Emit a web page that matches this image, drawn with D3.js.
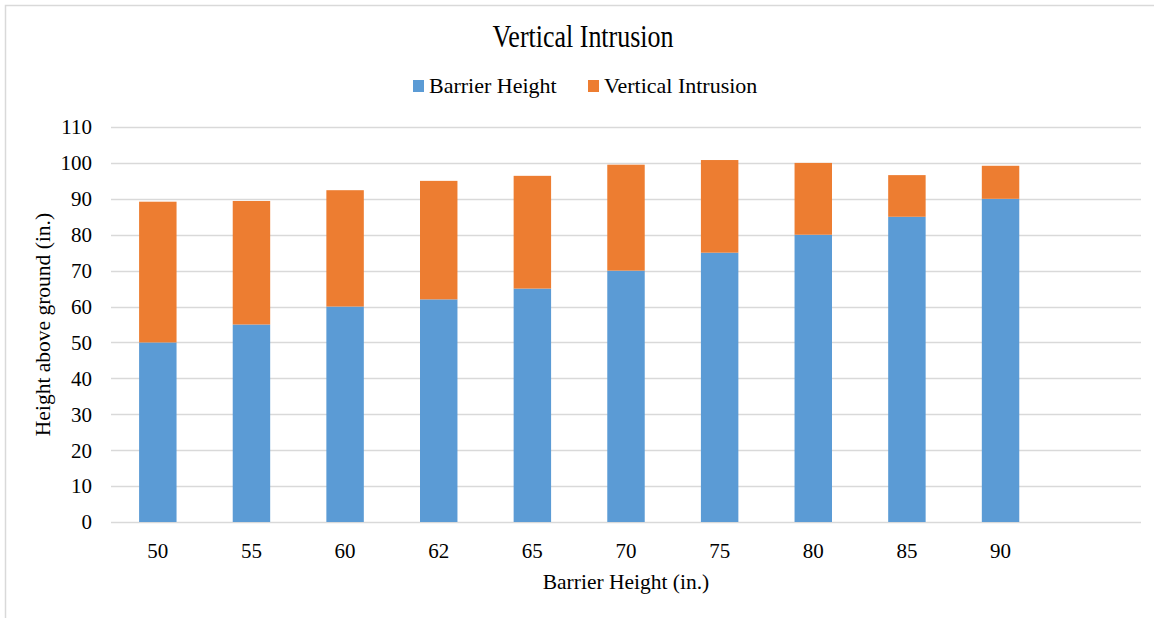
<!DOCTYPE html>
<html>
<head>
<meta charset="utf-8">
<script src="https://cdn.jsdelivr.net/npm/d3@7"></script>
<style>
  html, body { margin: 0; padding: 0; background: #fff; }
  svg { display: block; font-family: "Liberation Serif", "Times New Roman", serif; }
</style>
</head>
<body>
<div id="chart"></div>
<script>
// Stacked columns: barrier height + the vertical intrusion above it.
const categories = ['50', '55', '60', '62', '65', '70', '75', '80', '85', '90'];
const barrierHeight = [50, 55, 60, 62, 65, 70, 75, 80, 85, 90];
const verticalIntrusion = [39.2, 34.4, 32.4, 33.0, 31.4, 29.5, 25.8, 20.0, 11.6, 9.2];
const yTicks = [0, 10, 20, 30, 40, 50, 60, 70, 80, 90, 100, 110];

const W = 1154, H = 618;
const margin = { top: 127, right: 13, bottom: 96, left: 111 };
const innerW = W - margin.left - margin.right;
const innerH = H - margin.top - margin.bottom;
const BLUE = '#5b9bd5', ORANGE = '#ed7d31', GRID = '#d9d9d9', INK = '#000';

const svg = d3.select('#chart').append('svg').attr('width', W).attr('height', H);

// chart frame (only top and left edges show in the crop)
svg.append('path')
  .attr('d', `M5.5,${H} V5.5 H${W}`)
  .attr('fill', 'none').attr('stroke', GRID).attr('stroke-width', 1.5);

const g = svg.append('g').attr('transform', `translate(${margin.left},${margin.top})`);

// the source leaves one empty slot after the last category
const x = d3.scaleBand().domain([...categories, 'blank']).range([0, innerW])
  .paddingInner(0.6).paddingOuter(0.3);
const y = d3.scaleLinear().domain([0, 110]).range([innerH, 0]);

// gridlines
g.append('g').selectAll('line').data(yTicks).join('line')
  .attr('x1', 0).attr('x2', innerW)
  .attr('y1', (d) => Math.round(y(d)) + 0.5).attr('y2', (d) => Math.round(y(d)) + 0.5)
  .attr('stroke', GRID).attr('stroke-width', 1.5);

// y tick labels
g.append('g').selectAll('text').data(yTicks).join('text')
  .attr('x', -19).attr('y', (d) => y(d)).attr('dy', '0.35em')
  .attr('text-anchor', 'end').style('font-size', '21px').style('fill', INK)
  .text((d) => d);

// stacked bars
const rows = categories.map((c, i) => ({ c, b: barrierHeight[i], v: verticalIntrusion[i] }));
g.append('g').selectAll('rect').data(rows).join('rect')
  .attr('x', (d) => x(d.c)).attr('width', x.bandwidth())
  .attr('y', (d) => y(d.b)).attr('height', (d) => y(0) - y(d.b))
  .attr('fill', BLUE);
g.append('g').selectAll('rect').data(rows).join('rect')
  .attr('x', (d) => x(d.c)).attr('width', x.bandwidth())
  .attr('y', (d) => y(d.b + d.v)).attr('height', (d) => y(d.b) - y(d.b + d.v))
  .attr('fill', ORANGE);

// x tick labels
g.append('g').selectAll('text').data(categories).join('text')
  .attr('x', (d) => x(d) + x.bandwidth() / 2).attr('y', innerH + 36)
  .attr('text-anchor', 'middle').style('font-size', '21px').style('fill', INK)
  .text((d) => d);

// axis titles
g.append('text')
  .attr('x', 515).attr('y', innerH + 67).attr('text-anchor', 'middle')
  .style('font-size', '21.5px').style('fill', INK)
  .text('Barrier Height (in.)');
svg.append('text')
  .attr('transform', `translate(50,${margin.top + innerH / 2}) rotate(-90)`)
  .attr('text-anchor', 'middle').style('font-size', '21.5px').style('fill', INK)
  .text('Height above ground (in.)');

// title
svg.append('text')
  .attr('x', 583).attr('y', 47).attr('text-anchor', 'middle')
  .attr('textLength', 181).attr('lengthAdjust', 'spacingAndGlyphs')
  .style('font-size', '32px').style('fill', INK)
  .text('Vertical  Intrusion');

// legend
const legend = [
  { label: 'Barrier Height', color: BLUE, x: 413 },
  { label: 'Vertical Intrusion', color: ORANGE, x: 588 },
];
const lg = svg.append('g').selectAll('g').data(legend).join('g')
  .attr('transform', (d) => `translate(${d.x},0)`);
lg.append('rect').attr('x', 0).attr('y', 80).attr('width', 11).attr('height', 12)
  .attr('fill', (d) => d.color);
lg.append('text').attr('x', 16).attr('y', 93)
  .style('font-size', '22px').style('fill', INK)
  .text((d) => d.label);
</script>
</body>
</html>
